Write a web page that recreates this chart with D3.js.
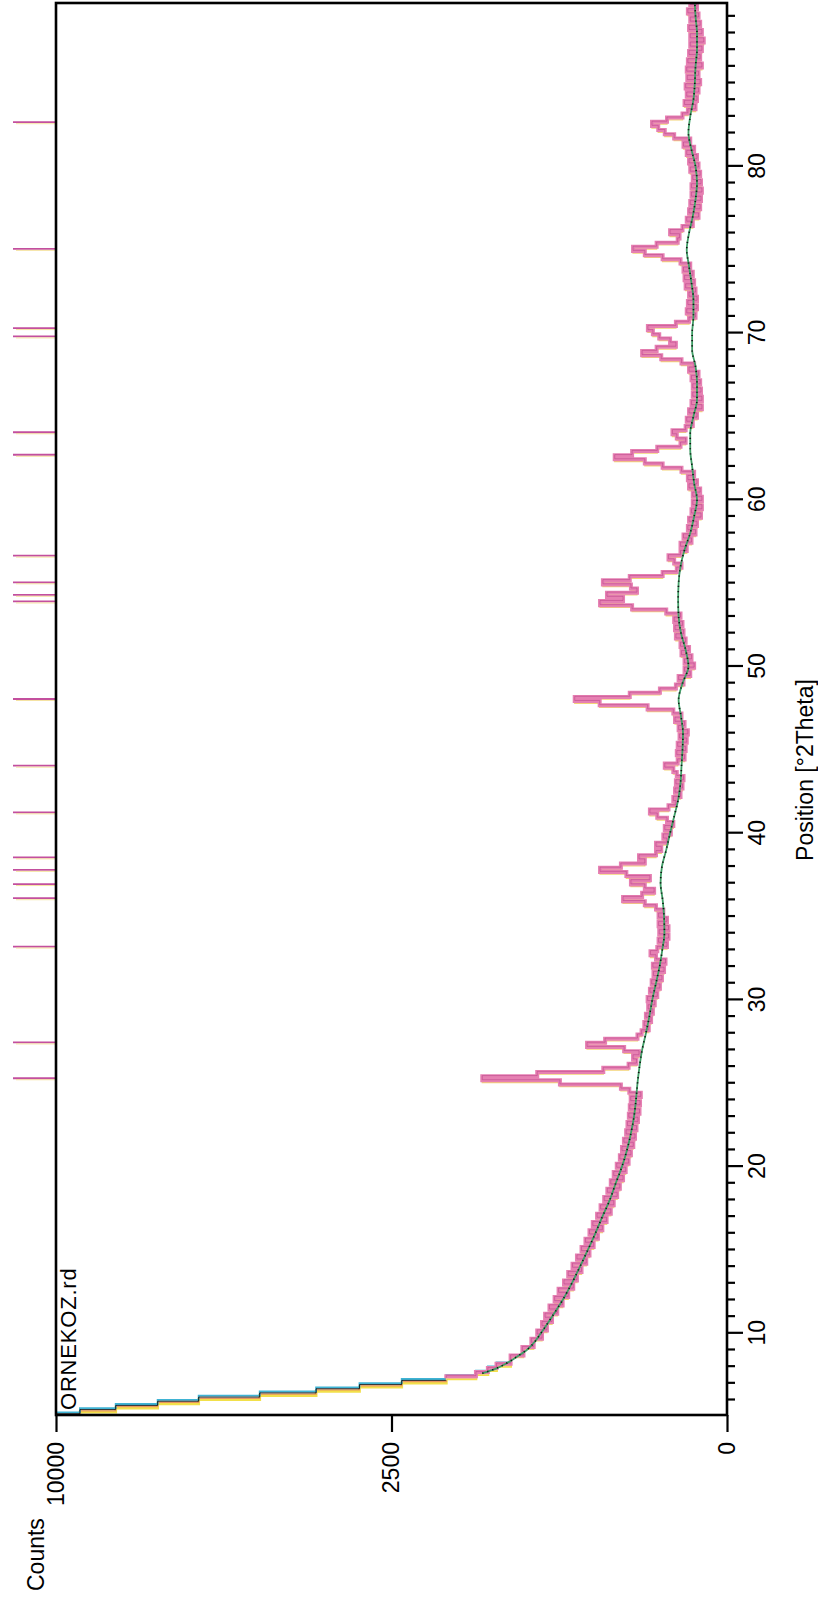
<!DOCTYPE html>
<html><head><meta charset="utf-8">
<script src="https://cdn.jsdelivr.net/npm/d3@7"></script>
<style>
html,body{margin:0;padding:0;background:#fff;}
svg{display:block;font-family:"Liberation Sans",Arial,sans-serif;}
</style>
</head><body>
<svg id="chart" width="818" height="1598"></svg>
<script>
// ---- data ----
const scanStart = 5.05;      // first 2Theta of the scan
const scanStep = 0.25;       // 2Theta step of the scan
const counts = [
  10200, 9300, 8300, 7200, 6200, 4850, 3750, 3000, 2350, 1750, 1400, 1270, 1180, 1040, 1040, 920, 930, 830, 850, 760,
  800, 720, 760, 680, 735, 640, 700, 600, 660, 560, 630, 525, 590, 500, 560, 470, 530, 440, 500, 420,
  470, 395, 445, 370, 420, 345, 400, 322, 375, 300, 355, 285, 335, 268, 318, 255, 300, 240, 285, 228,
  270, 215, 255, 205, 245, 195, 236, 188, 226, 182, 220, 176, 214, 170, 210, 168, 206, 165, 212, 250,
  620, 1330, 800, 340, 215, 182, 196, 172, 235, 435, 330, 178, 162, 136, 152, 128, 146, 122, 138, 116,
  140, 108, 132, 100, 126, 94, 120, 88, 122, 84, 112, 130, 108, 80, 104, 76, 102, 76, 104, 80,
  104, 90, 112, 150, 240, 160, 118, 150, 205, 132, 225, 358, 250, 150, 172, 112, 96, 112, 80, 90,
  70, 86, 64, 80, 108, 132, 76, 58, 64, 48, 60, 44, 58, 42, 56, 64, 86, 54, 40, 56,
  38, 54, 36, 50, 34, 52, 40, 60, 46, 64, 140, 360, 515, 210, 100, 58, 42, 52, 30, 40,
  24, 40, 28, 46, 32, 48, 38, 58, 42, 60, 44, 62, 48, 82, 200, 358, 240, 320, 180, 205,
  342, 210, 92, 56, 46, 62, 76, 48, 36, 48, 28, 42, 22, 34, 20, 32, 15, 28, 14, 26,
  14, 26, 16, 32, 20, 34, 24, 46, 92, 150, 280, 200, 108, 48, 38, 56, 66, 38, 26, 36,
  20, 32, 14, 28, 14, 26, 15, 26, 16, 28, 18, 32, 24, 46, 96, 160, 110, 58, 72, 102,
  122, 139, 58, 32, 22, 36, 20, 34, 20, 32, 22, 38, 24, 40, 26, 42, 30, 48, 92, 150,
  196, 110, 54, 50, 72, 44, 26, 36, 18, 32, 16, 30, 15, 28, 14, 28, 15, 26, 16, 30,
  18, 32, 20, 36, 24, 42, 30, 62, 86, 105, 125, 80, 44, 34, 22, 40, 20, 36, 18, 38,
  16, 35, 18, 36, 14, 34, 16, 32, 14, 30, 12, 30, 14, 32, 16, 30, 18, 34, 20, 30
];
const bgTheta = [7.6, 7.9, 8.2, 8.6, 9, 9.5, 10, 11, 12, 13, 14, 15, 16, 17, 18, 19, 20, 21, 22, 23, 24, 25, 26, 27, 28, 29, 30,
  31, 32, 33, 34, 35, 36, 37, 38, 39, 40, 41, 42, 43, 44, 45, 46, 47, 48, 49, 50, 51, 52, 53, 54, 55, 56, 57, 58, 59, 60,
  61, 62, 63, 64, 65, 66, 67, 68, 69, 70, 71, 72, 73, 74, 75, 76, 77, 78, 79, 80, 81, 82, 83, 84, 85, 86, 87, 88, 89, 89.8];
const bgCounts = [1330, 1180, 1080, 980, 890, 820, 770, 680, 600, 535, 480, 430, 385, 345, 305, 275, 245, 222, 205, 192, 184, 178, 170, 160, 146, 134, 124,
  112, 101, 93, 87, 88, 92, 98, 94, 82, 72, 62, 53, 48, 46, 44, 43, 47, 52, 44, 33, 38, 47, 52, 53, 52, 48, 40, 30, 24, 20,
  24, 27, 30, 30, 25, 20, 20, 22, 27, 27, 25, 25, 28, 32, 36, 32, 26, 22, 20, 22, 28, 33, 30, 25, 23, 22, 20, 20, 22, 23];
const refPeaks = [25.3, 27.45, 33.2, 36.1, 36.95, 37.8, 38.55, 41.25, 44.05, 48.05, 53.9, 54.3, 55.05, 56.65, 62.7, 64.05, 69.8, 70.3, 75.05, 82.65];
const thetaTicks = [10, 20, 30, 40, 50, 60, 70, 80];
const thetaMinorTicks = [6,7,8,9,11,12,13,14,15,16,17,18,19,21,22,23,24,25,26,27,28,29,31,32,33,34,35,36,37,38,39,
  41,42,43,44,45,46,47,48,49,51,52,53,54,55,56,57,58,59,61,62,63,64,65,66,67,68,69,71,72,73,74,75,76,77,78,79,
  81,82,83,84,85,86,87,88,89];
const countTicks = [0, 2500, 10000];
const thetaDomain = [5.1, 89.8];
const countDomain = [0, 10000];
const sampleName = "ORNEKOZ.rd";
const xTitle = "Position [°2Theta]";
const yTitle = "Counts";

// ---- layout (chart drawn in its own frame, then turned a quarter turn) ----
const W = 1412, H = 671;
const svg = d3.select("#chart");
const g = svg.append("g").attr("transform", "translate(56,1415) rotate(-90)");

const x = d3.scaleLinear().domain(thetaDomain).range([0, W]);
const y = d3.scaleSqrt().domain(countDomain).range([H, 0]);

const obs = counts.map((c, i) => ({t: scanStart + i * scanStep, c}));
const bg = bgTheta.map((t, i) => ({t, c: bgCounts[i]}));

g.append("clipPath").attr("id", "clip").append("rect")
  .attr("x", 0).attr("y", 0).attr("width", W).attr("height", H);

const plot = g.append("g").attr("clip-path", "url(#clip)");

const stepLine = d3.line().x(d => x(d.t)).y(d => y(d.c)).curve(d3.curveStep);

// low angle part: coloured stepped traces
const low = obs.filter(d => d.t <= 8.4);
[["#f2e04a", -2.6, 2.8], ["#e9955c", -1.2, 1.2], ["#3fb3d4", 1.4, 1.8], ["#111", 0, 0.9]].forEach(([col, off, w]) => {
  plot.append("path").datum(low)
    .attr("transform", `translate(${off},0)`)
    .attr("fill", "none").attr("stroke", col).attr("stroke-width", w)
    .attr("d", stepLine);
});

// observed pattern
const hi = obs.filter(d => d.t >= 7.3);
plot.append("path").datum(hi).attr("transform", "translate(-2.2,0)")
  .attr("fill", "none").attr("stroke", "#f3d477").attr("stroke-width", 1.3).attr("d", stepLine);
plot.append("path").datum(hi)
  .attr("fill", "none").attr("stroke", "#e680b2").attr("stroke-width", 4).attr("d", stepLine);
plot.append("path").datum(hi).attr("transform", "translate(0.6,0)")
  .attr("fill", "none").attr("stroke", "#b33a82").attr("stroke-width", 0.8).attr("opacity", 0.6).attr("d", stepLine);

// background
const bgLine = d3.line().x(d => x(d.t)).y(d => y(d.c)).curve(d3.curveMonotoneX);
plot.append("path").datum(bg).attr("fill", "none").attr("stroke", "#3f9f66").attr("stroke-width", 1.8).attr("d", bgLine);
plot.append("path").datum(bg).attr("fill", "none").attr("stroke", "#111").attr("stroke-width", 1.6)
  .attr("stroke-dasharray", "1.2,4").attr("d", bgLine);

// reference pattern sticks above the frame
g.append("g").selectAll("line").data(refPeaks).join("line")
  .attr("x1", d => x(d)).attr("x2", d => x(d)).attr("y1", -43).attr("y2", 0)
  .attr("stroke", "#c34f9e").attr("stroke-width", 1.8);
g.append("g").selectAll("line").data(refPeaks).join("line")
  .attr("x1", d => x(d) - 1.5).attr("x2", d => x(d) - 1.5).attr("y1", -40).attr("y2", 0)
  .attr("stroke", "#f3dc8a").attr("stroke-width", 0.8);

// frame
g.append("rect").attr("x", 0).attr("y", 0).attr("width", W).attr("height", H)
  .attr("fill", "none").attr("stroke", "#000").attr("stroke-width", 2.6);

// axes
const styleAxis = sel => {
  sel.select(".domain").remove();
  sel.selectAll(".tick line").attr("stroke", "#000").attr("stroke-width", 2.2);
  sel.selectAll(".tick text").attr("fill", "#000").style("font-size", "23px")
    .style("font-family", "'Liberation Sans', Arial, sans-serif");
};
g.append("g").attr("transform", `translate(0,${H})`)
  .call(d3.axisBottom(x).tickValues(thetaMinorTicks).tickSize(8).tickFormat(""))
  .call(styleAxis);
g.append("g").attr("transform", `translate(0,${H})`)
  .call(d3.axisBottom(x).tickValues(thetaTicks).tickSize(16).tickPadding(6).tickFormat(d3.format("d")))
  .call(styleAxis);
g.append("g")
  .call(d3.axisLeft(y).tickValues(countTicks).tickSize(17).tickPadding(10).tickFormat(d3.format("d")))
  .call(styleAxis);

// titles
g.append("text").attr("x", 645).attr("y", 757).attr("text-anchor", "middle")
  .style("font-size", "23px").text(xTitle);
g.append("text").attr("x", -176).attr("y", -12).attr("text-anchor", "start")
  .style("font-size", "23px").text(yTitle);
g.append("text").attr("x", 5).attr("y", 20).attr("text-anchor", "start")
  .style("font-size", "22px").style("letter-spacing", "0.8px").text(sampleName);
</script>
</body></html>
